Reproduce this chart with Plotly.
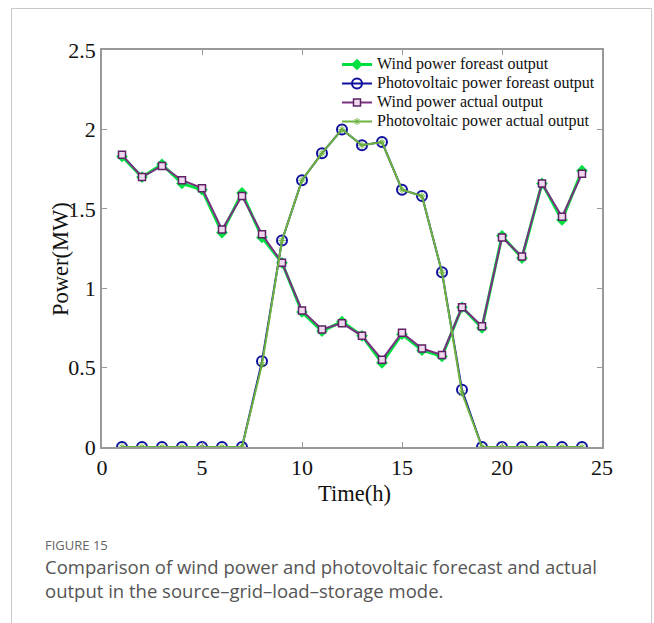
import plotly.graph_objects as go

hours = list(range(1, 25))
wind_forecast = [1.83, 1.70, 1.78, 1.66, 1.62, 1.35, 1.60, 1.32, 1.16, 0.85, 0.73, 0.79,
                 0.70, 0.53, 0.71, 0.61, 0.57, 0.88, 0.75, 1.33, 1.19, 1.66, 1.43, 1.74]
pv_forecast = [0, 0, 0, 0, 0, 0, 0, 0.54, 1.30, 1.68, 1.85, 2.00,
               1.90, 1.92, 1.62, 1.58, 1.10, 0.36, 0, 0, 0, 0, 0, 0]
wind_actual = [1.84, 1.70, 1.77, 1.68, 1.63, 1.37, 1.58, 1.34, 1.16, 0.86, 0.74, 0.78,
               0.70, 0.55, 0.72, 0.62, 0.58, 0.88, 0.76, 1.32, 1.20, 1.66, 1.45, 1.72]
pv_actual = [0, 0, 0, 0, 0, 0, 0, 0.52, 1.30, 1.68, 1.85, 2.00,
             1.90, 1.92, 1.62, 1.58, 1.10, 0.34, 0, 0, 0, 0, 0, 0]

names = ["Wind power foreast output", "Photovoltaic power foreast output",
         "Wind power actual output", "Photovoltaic power actual output"]

x_ticks = [0, 5, 10, 15, 20, 25]
y_ticks = [0, 0.5, 1, 1.5, 2, 2.5]
y_ticklabels = ["0", "0.5", "1", "1.5", "2", "2.5"]


def leg(name):
    return f'<span style="font-size:16px">{name}</span>'


fig = go.Figure()
fig.add_trace(go.Scatter(x=hours, y=wind_forecast, name=leg(names[0]), mode="lines+markers",
                         line=dict(color="#00e040", width=3),
                         marker=dict(symbol="diamond", size=9, color="#00e040")))
fig.add_trace(go.Scatter(x=hours, y=pv_forecast, name=leg(names[1]), mode="lines+markers",
                         line=dict(color="#1010a0", width=2),
                         marker=dict(symbol="circle-open", size=10, color="#1010a0",
                                     line=dict(width=2))))
fig.add_trace(go.Scatter(x=hours, y=wind_actual, name=leg(names[2]), mode="lines+markers",
                         line=dict(color="#7a3080", width=2),
                         marker=dict(symbol="square", size=7, color="#f2d8ee",
                                     line=dict(color="#5e2266", width=1.5))))
fig.add_trace(go.Scatter(x=hours, y=pv_actual, name=leg(names[3]), mode="lines+markers",
                         line=dict(color="#6db33f", width=2),
                         marker=dict(symbol="asterisk-open", size=6, color="#6db33f",
                                     line=dict(color="#6db33f", width=1))))

L, R, T, B = 102, 52, 50, 176
W, H = 654, 623
pw, ph = W - L - R, H - T - B


def px(x):
    return (x - L) / pw


def py(y):
    return (H - B - y) / ph


fig.update_layout(
    width=W, height=H,
    margin=dict(l=L, r=R, t=T, b=B),
    paper_bgcolor="white", plot_bgcolor="white",
    font=dict(family="Liberation Serif", color="#111"),
    showlegend=True,
    legend=dict(x=px(337), y=py(50), xanchor="left", yanchor="top",
                bgcolor="rgba(255,255,255,0)", borderwidth=0,
                font=dict(family="Liberation Serif", size=11, color="#111"),
                tracegroupgap=0, itemsizing="trace"),
    xaxis=dict(range=[0, 25], tickvals=x_ticks, ticktext=[str(v) for v in x_ticks],
               ticks="inside", ticklen=5, tickcolor="#999", showgrid=False, zeroline=False,
               showline=True, linecolor="#999", linewidth=1.5, mirror="ticks",
               tickfont=dict(size=22, family="Liberation Serif", color="#111")),
    yaxis=dict(range=[0, 2.5], tickvals=y_ticks, ticktext=y_ticklabels,
               ticks="inside", ticklen=5, tickcolor="#999", showgrid=False, zeroline=False,
               showline=True, linecolor="#999", linewidth=1.5, mirror="ticks",
               tickfont=dict(size=22, family="Liberation Serif", color="#111")),
)

annotations = [
    dict(text="Power(MW)", x=px(60), y=py(259), textangle=-90,
         font=dict(family="Liberation Serif", size=22.5, color="#111")),
    dict(text="Time(h)", x=px(354), y=py(493),
         font=dict(family="Liberation Serif", size=22.5, color="#111")),
    dict(text="FIGURE 15", x=px(43), y=py(545), xanchor="left",
         font=dict(family="Open Sans", size=13, color="#666")),
    dict(text="Comparison of wind power and photovoltaic forecast and actual", x=px(43), y=py(566),
         xanchor="left", font=dict(family="Open Sans", size=18.5, color="#555")),
    dict(text="output in the source\u2013grid\u2013load\u2013storage mode.", x=px(43), y=py(590),
         xanchor="left", font=dict(family="Open Sans", size=18.5, color="#555")),
]
for a in annotations:
    a.update(xref="paper", yref="paper", showarrow=False, yanchor="middle")
    a.setdefault("xanchor", "center")
fig.update_layout(annotations=annotations)

fig.add_shape(type="path", xref="paper", yref="paper",
              path=f"M {px(11.5)} {py(623)} L {px(11.5)} {py(8.5)} L {px(651.5)} {py(8.5)} L {px(651.5)} {py(623)}",
              line=dict(color="#c8c8c8", width=1))

fig.write_html("out.html")
